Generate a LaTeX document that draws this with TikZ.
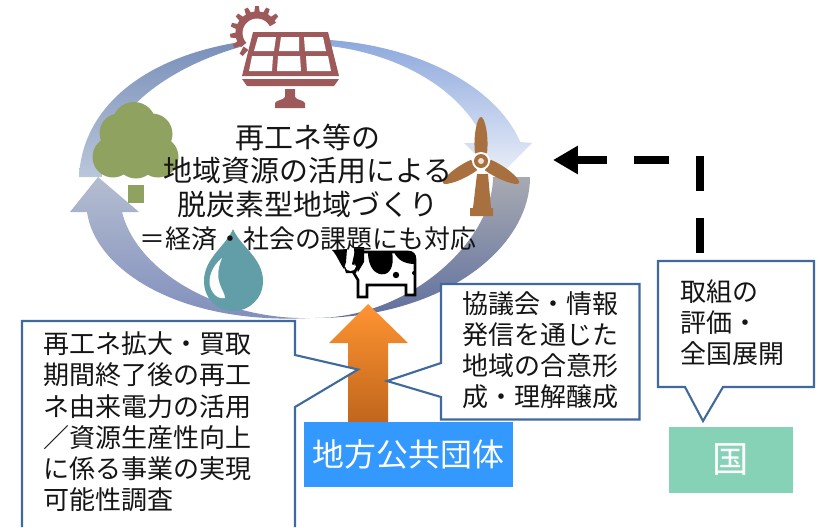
\documentclass[tikz,border=0pt]{standalone}
\usepackage{fontspec}
\setmainfont{Noto Sans CJK JP}
\usetikzlibrary{arrows.meta}
\definecolor{panelred}{HTML}{9E5A5A}
\definecolor{turbinebrown}{HTML}{A9703F}
\definecolor{treegreen}{HTML}{8FA25F}
\definecolor{dropteal}{HTML}{629EA8}
\definecolor{calloutblue}{HTML}{3F6A9B}
\definecolor{chihoublue}{HTML}{3399FF}
\definecolor{kunigreen}{HTML}{85D2B7}
\definecolor{inkblack}{HTML}{151515}
\definecolor{bandtoplight}{HTML}{8CA8DC}
\definecolor{bandtopfade}{HTML}{ECF0FA}
\definecolor{bandgrey}{HTML}{A8AAB2}
\definecolor{banddark}{HTML}{60709E}
\definecolor{bandheadgrey}{HTML}{B4BDD0}
\definecolor{bandbottom}{HTML}{7F8DBC}
\definecolor{bandleftdark}{HTML}{7A90BA}
\definecolor{bandleftlight}{HTML}{BAC6DA}
\definecolor{arrowtop}{HTML}{FF9432}
\definecolor{arrowmid}{HTML}{E8802A}
\definecolor{arrowbottom}{HTML}{C0661C}
\tikzset{
  calloutline/.style={draw=calloutblue,line width=1.8pt,fill=white,line join=miter},
  callouttext/.style={inner sep=0pt,anchor=north west,align=left,text=inkblack,font=\fontsize{22.2}{26.7}\selectfont},
  actorbox/.style={inner sep=0pt,text=white},
  dasharrow/.style={line width=7.3pt,dash pattern=on 29.9pt off 23pt,-{Triangle[length=21.3pt,width=23pt]}}
}
\begin{document}
\begin{tikzpicture}[x=0.03cm,y=-0.03cm]
\useasboundingbox (0,0) rectangle (821,527);
% cycle
\shade[top color=bandtoplight,bottom color=bandtopfade] plot[domain=88:15,samples=40] ({303+225*cos(\x)},{178-139*sin(\x)}) -- (532,143) -- (498,177) -- (464,143) -- plot[domain=16:88,samples=40] ({296+197*cos(\x)},{181-137*sin(\x)}) -- cycle;
\shade[top color=bandgrey,bottom color=banddark] (530,177) .. controls (530,250) and (440,318) .. (315,318) .. controls (410,318) and (493,240) .. (493,177) -- cycle;
\shade[top color=bandheadgrey,bottom color=bandbottom] (98,177) -- (139,212) -- (122,212) .. controls (138,275) and (225,320) .. (310,318) .. controls (180,325) and (95,270) .. (87,212) -- (70,212) -- cycle;
\shade[top color=bandleftdark,bottom color=bandleftlight] (79,177) .. controls (82,110) and (140,58) .. (240,42) -- (240,47) .. controls (160,70) and (100,120) .. (102,177) -- cycle;
% solar panel
\draw[panelred,line width=6pt,domain=28:222,samples=40] plot ({257+18*cos(\x)},{33-18*sin(\x)});
\foreach \a in {42,66,...,234}
  \fill[panelred] ({257+19*cos(\a-9)},{33-19*sin(\a-9)}) -- ({257+27*cos(\a-4)},{33-27*sin(\a-4)}) -- ({257+27*cos(\a+4)},{33-27*sin(\a+4)}) -- ({257+19*cos(\a+9)},{33-19*sin(\a+9)}) -- cycle;
\fill[panelred] (253,32) -- (328,32) -- (339,76) -- (242,76) -- cycle;
\fill[panelred] (242,79) -- (339,79) -- (334,86) -- (247,86) -- cycle;
\foreach \p/\q/\r/\s in {258/276/274/254,281/299/299/279,304/323/326/305}
  \fill[white] (\p,37) -- (\q,37) -- (\r,51) -- (\s,51) -- cycle;
\foreach \p/\q/\r/\s in {252/273/272/249,278/300/301/277,306/328/331/307}
  \fill[white] (\p,56) -- (\q,56) -- (\r,71) -- (\s,71) -- cycle;
\fill[panelred] (285,89) -- (295,89) -- (295,97) .. controls (296,100) and (304,100) .. (305,103) -- (305,108) -- (275,108) -- (275,103) .. controls (276,100) and (284,100) .. (285,97) -- cycle;
% tree
\fill[treegreen] (134,124) circle[radius=22] (119,133) circle[radius=19.5] (152,134) circle[radius=20.5] (113,157) circle[radius=20.5] (158,157) circle[radius=20.5] (136,158) circle[radius=20.5] (135,145) circle[radius=28];
\fill[treegreen] (128,185) rectangle (144,203);
% wind turbine
\fill[turbinebrown] (477,174) -- (488,174) -- (491,208) -- (493,208) -- (493,216) -- (470,216) -- (470,208) -- (473,208) -- cycle;
\foreach \a in {0,120,240} {
  \begin{scope}[shift={(481,161)},rotate=\a]
  \fill[turbinebrown] (-6,-8) .. controls (-8,-24) and (-4,-44) .. (0,-44) .. controls (4,-44) and (8,-24) .. (6,-8) -- cycle;
  \end{scope}
}
\fill[white] (481,161) circle[radius=9];
\fill[turbinebrown] (481,161) circle[radius=7];
\fill[white!80!turbinebrown] (481,161) circle[radius=3];
% water drop
\fill[dropteal] (233,229) .. controls (240,246) and (263,258) .. (263,281) .. controls (263,298) and (250,311) .. (233,311) .. controls (216,311) and (204,298) .. (204,281) .. controls (204,258) and (226,246) .. (233,229) -- cycle;
\fill[white] (222,258) .. controls (212,266) and (208,278) .. (210,286) .. controls (212,294) and (219,300) .. (225,298) .. controls (225,290) and (212,282) .. (222,258) -- cycle;
% cow
\draw[line width=2.2pt,fill=white] (356,252) -- (408,252) .. controls (413,252) and (415,255) .. (415,259) -- (415,295) -- (406,295) -- (406,285) -- (367,285) -- (367,297) -- (358,297) -- (358,280) -- (352,270) -- cycle;
\fill (368,252) -- (392,252) .. controls (394,262) and (392,272) .. (385,274) .. controls (376,276) and (368,268) .. (368,252) -- cycle;
\fill (394,252) -- (408,252) .. controls (413,252) and (415,255) .. (415,259) -- (415,264) .. controls (406,264) and (398,261) .. (394,252) -- cycle;
\fill (396,275) circle[radius=3.2] (414,273) circle[radius=2];
\fill (332,250) -- (347,249) -- (346,262) -- (344,269) .. controls (340,264) and (337,255) .. (332,250) -- cycle;
\fill (354,247) -- (364,247) -- (364,262) -- (358,272) -- (355,264) -- cycle;
\fill (344,267) -- (358,267) -- (356,273) -- (346,273) -- cycle;
\fill[white] (350.5,267.5) ellipse[x radius=5,y radius=3.5];
% title
\node[inner sep=0pt,align=center,text=inkblack,font=\fontsize{24.7}{28.6}\selectfont] (title) at (308,187.5) {再工ネ等の\\地域資源の活用による\\脱炭素型地域づくり\\{\fontsize{22.1}{28.6}\selectfont ＝経済・社会の課題にも対応}};
% orange arrow
\shade[top color=arrowtop,middle color=arrowmid,bottom color=arrowbottom] (368,304) -- (408,343) -- (388,343) -- (388,422) -- (348,422) -- (348,343) -- (329,343) -- cycle;
% actors
\node[actorbox,fill=chihoublue,minimum width=6.27cm,minimum height=1.95cm,font=\fontsize{27.2}{32}\selectfont] (chihou) at (408.5,454.5) {\raisebox{-2pt}{地方公共団体}};
\node[actorbox,fill=kunigreen,minimum width=3.72cm,minimum height=1.98cm,font=\fontsize{31}{34}\selectfont] (kuni) at (731,460) {国};
% callouts
\draw[calloutline] (22,527) -- (22,321) -- (295,321) -- (295,355) -- (358,369.5) -- (295,407) -- (295,527);
\node[callouttext] (jigyo) at (43,331.5) {再工ネ拡大・買取\\期間終了後の再工\\ネ由来電力の活用\\／資源生産性向上\\に係る事業の実現\\可能性調査};
\draw[calloutline] (441,284) -- (639.5,284) -- (639.5,419.5) -- (441,419.5) -- (441,397) -- (387,381) -- (441,363) -- cycle;
\node[callouttext] (goui) at (462,291) {協議会・情報\\発信を通じた\\地域の合意形\\成・理解醸成};
\draw[calloutline] (658,261) -- (814,261) -- (814,387) -- (723,387) -- (703,421) -- (685,387) -- (658,387) -- cycle;
\node[callouttext] (hyoka) at (680,279) {取組の\\評価・\\全国展開};
% dashed arrow
\coordinate (dashstart) at (700,253);
\coordinate (dashturn) at (700,160);
\coordinate (dashend) at (553,160);
\draw[dasharrow] (dashstart) -- (dashturn) -- (dashend);
\end{tikzpicture}
\end{document}
